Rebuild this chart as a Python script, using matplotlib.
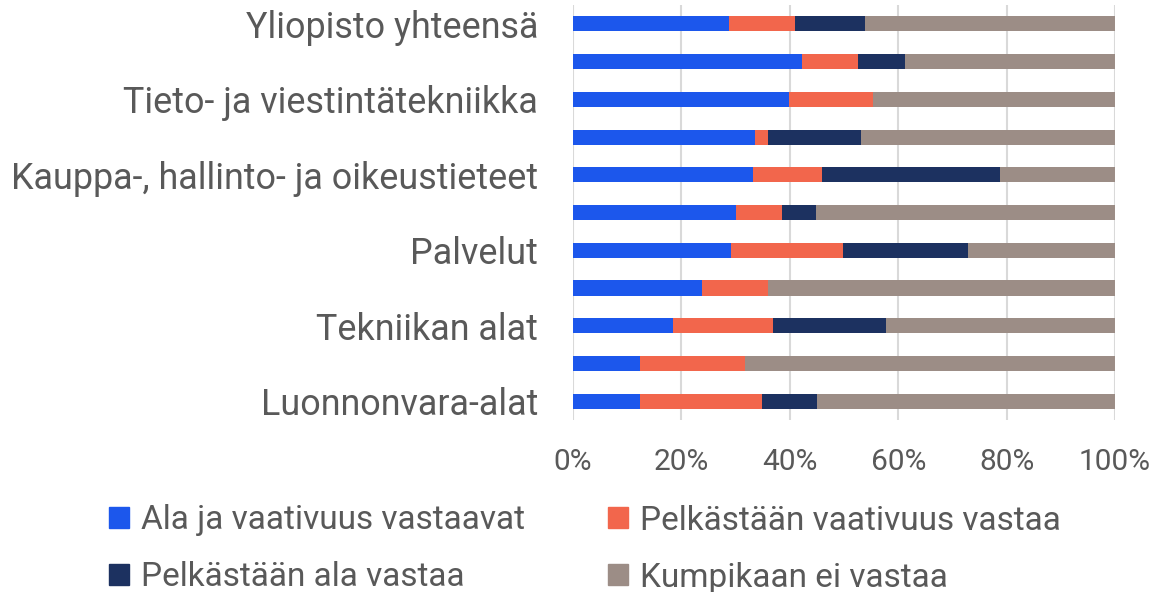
"""
Koulutuksen vastaavuus tehtävään koulutusaloittain (100 % pinottu vaakapylväs)
"""

import numpy as np
import matplotlib
matplotlib.use("Agg")
import matplotlib.pyplot as plt
from matplotlib.patches import Patch

######################################################################

# Kategoriat ylhäältä alas (joka toinen nimi ei näy kuvassa)
kategoriat = ["Yliopisto yhteensä", "", "Tieto- ja viestintätekniikka", "",
              "Kauppa-, hallinto- ja oikeustieteet", "", "Palvelut", "",
              "Tekniikan alat", "", "Luonnonvara-alat"]

ala_ja_vaativuus = [28.8, 42.3, 39.9, 33.5, 33.2, 30.0, 29.1, 23.8, 18.5, 12.3, 12.3]
vain_vaativuus = [12.1, 10.2, 15.5, 2.5, 12.7, 8.5, 20.7, 12.2, 18.4, 19.5, 22.6]
vain_ala = [13.0, 8.8, 0.0, 17.2, 32.9, 6.4, 23.1, 0.0, 20.9, 0.0, 10.2]
ei_kumpikaan = [46.1, 38.7, 44.6, 46.8, 21.2, 55.1, 27.1, 64.0, 42.2, 68.2, 54.9]

sarjat = ["Ala ja vaativuus vastaavat", "Pelkästään vaativuus vastaa",
          "Pelkästään ala vastaa", "Kumpikaan ei vastaa"]
varit = ["#1C57EC", "#F2664C", "#1C3160", "#9C8D86"]

tekstin_vari = "#595959"
plt.rcParams["font.family"] = ["Roboto", "DejaVu Sans"]

fig = plt.figure(figsize=(11.53, 5.92), dpi=100)
ax = fig.add_axes([573 / 1153, 1 - 420 / 592, 542 / 1153, 415 / 592])

y = np.arange(len(kategoriat))
vasen = np.zeros(len(kategoriat))
for arvot, vari in zip([ala_ja_vaativuus, vain_vaativuus, vain_ala, ei_kumpikaan], varit):
    arvot = np.array(arvot)
    ax.barh(y, arvot, left=vasen, height=0.4, color=vari, zorder=3)
    vasen += arvot

ax.set_ylim(len(kategoriat) - 0.5, -0.5)
ax.set_xlim(0, 100)
ax.set_yticks(y)
ax.set_yticklabels(kategoriat)
ax.set_xticks([0, 20, 40, 60, 80, 100])
ax.set_xticklabels([f"{v}%" for v in [0, 20, 40, 60, 80, 100]])
ax.tick_params(axis="y", length=0, pad=25, labelsize=25.8, labelcolor=tekstin_vari)
ax.tick_params(axis="x", length=0, pad=20, labelsize=21.5, labelcolor=tekstin_vari)
ax.grid(axis="x", color="#D9D9D9", linewidth=1.5, zorder=0)
for s in ax.spines.values():
    s.set_visible(False)

kahvat = [Patch(color=v) for v in varit]
jarj = [0, 2, 1, 3]
fig.legend([kahvat[i] for i in jarj], [sarjat[i] for i in jarj], ncol=2,
           loc="center", bbox_to_anchor=(585 / 1153, 1 - 549 / 592),
           frameon=False, fontsize=24, labelcolor=tekstin_vari,
           handlelength=0.6, handleheight=0.6, handletextpad=0.35,
           columnspacing=2.5, labelspacing=0.75, borderpad=0.2)

fig.savefig("out.png", dpi=100)
